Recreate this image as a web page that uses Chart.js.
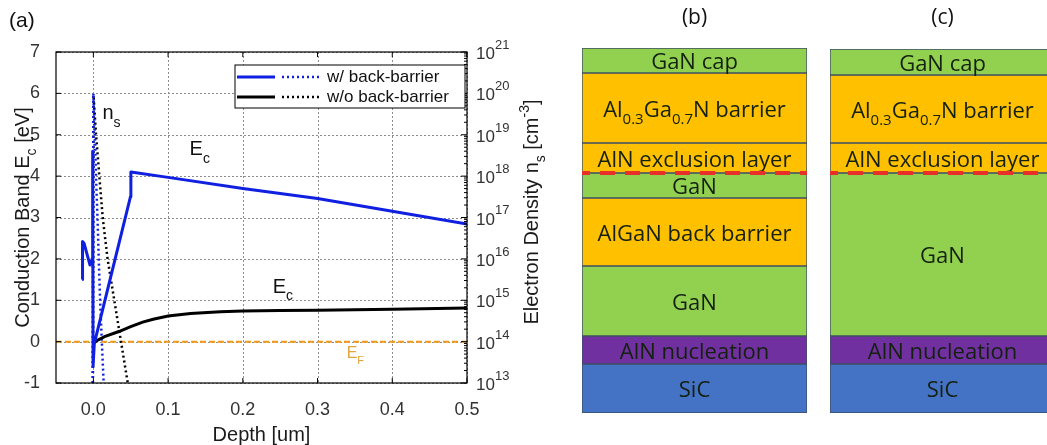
<!DOCTYPE html>
<html>
<head>
<meta charset="utf-8">
<script src="https://cdn.jsdelivr.net/npm/chart.js@4.4.1/dist/chart.umd.min.js"></script>
<style>
  html, body { margin: 0; padding: 0; background: #fff; width: 1047px; height: 445px; overflow: hidden; }
  .panel { position: absolute; top: 0; }
</style>
</head>
<body>
<div class="panel" style="left:0"><canvas id="band" width="560" height="445"></canvas></div>
<div class="panel" style="left:560px"><canvas id="stackB" width="255" height="445"></canvas></div>
<div class="panel" style="left:815px"><canvas id="stackC" width="240" height="445"></canvas></div>
<script>
// ---- data (a): band diagram ----
const xTicks = [0, 0.1, 0.2, 0.3, 0.4, 0.5];
const ecTicks = [-1, 0, 1, 2, 3, 4, 5, 6, 7];
const densityTicks = [1e13, 1e14, 1e15, 1e16, 1e17, 1e18, 1e19, 1e20, 1e21];

// conduction band, with back-barrier
const depthEcBB = [-0.015, -0.0148, -0.0142, -0.0125, -0.0045, -0.0015, -0.0009, -0.0004, 0.0013, 0.0496, 0.0502, 0.1, 0.2, 0.3, 0.4, 0.5];
const ecBB      = [1.5, 1.75, 2.42, 2.38, 1.85, 2.0, 4.6, -0.6, -0.04, 3.5, 4.1, 3.97, 3.70, 3.46, 3.15, 2.84];
// conduction band, without back-barrier
const depthEcNoBB = [0.0, 0.005, 0.015, 0.035, 0.05, 0.066, 0.08, 0.1, 0.13, 0.17, 0.2, 0.25, 0.3, 0.4, 0.5];
const ecNoBB      = [-0.05, 0.03, 0.12, 0.25, 0.36, 0.47, 0.54, 0.62, 0.68, 0.72, 0.74, 0.75, 0.76, 0.78, 0.81];
// electron density, with back-barrier
const depthNsBB = [-0.0008, 0, 0.002, 0.0035, 0.0055, 0.0072, 0.009, 0.0113, 0.0138];
const nsBB      = [1e13, 1e20, 1e19, 1e18, 1e17, 1e16, 1e15, 1e14, 1e13];
// electron density, without back-barrier
const depthNsNoBB = [-0.0006, 0.0002, 0.0036, 0.008, 0.0125, 0.019, 0.028, 0.037, 0.046];
const nsNoBB      = [1e13, 9e19, 1e19, 1e18, 1e17, 1e16, 1e15, 1e14, 1e13];
const fermiLevel = 0;

const legendLabels = ['w/ back-barrier', 'w/o back-barrier'];
const seriesColors = ['#1020e0', '#000000'];

// ---- data (b), (c): layer stacks, top to bottom ----
const layersB = ['GaN cap', 'Al0.3Ga0.7N barrier', 'AlN exclusion layer', 'GaN', 'AlGaN back barrier', 'GaN', 'AlN nucleation', 'SiC'];
const thickB  = [25, 70, 30, 25, 68, 70, 28, 49];
const layersC = ['GaN cap', 'Al0.3Ga0.7N barrier', 'AlN exclusion layer', 'GaN', 'AlN nucleation', 'SiC'];
const thickC  = [26, 68, 30, 163, 28, 49];

const materialColor = { GaN: '#92d050', AlGaN: '#ffc000', AlNnuc: '#7030a0', SiC: '#4472c4' };
function layerColor(name) {
  if (name.startsWith('GaN')) return materialColor.GaN;
  if (name.startsWith('AlN nuc')) return materialColor.AlNnuc;
  if (name.startsWith('SiC')) return materialColor.SiC;
  return materialColor.AlGaN;
}
function layerParts(name) {
  if (name.startsWith('Al0.3')) return [['Al'], ['0.3', 'sub'], ['Ga'], ['0.7', 'sub'], ['N barrier']];
  return [[name]];
}

const SANS = "'Liberation Sans', Arial, sans-serif";
const CAL = "'Open Sans', 'Noto Sans', sans-serif";
Chart.defaults.font.family = SANS;
Chart.defaults.color = '#333';

// text with sub/superscripts; y is the middle of the capitals
function drawRich(ctx, parts, x, y, o) {
  const size = o.size, fam = o.family || SANS;
  const small = Math.round(size * (o.scale || 0.7));
  const fontOf = p => (p[1] ? small : size) + 'px ' + fam;
  let w = 0;
  parts.forEach(p => { ctx.font = fontOf(p); w += ctx.measureText(p[0]).width; });
  let cx = o.align === 'center' ? x - w / 2 : (o.align === 'right' ? x - w : x);
  const base = y + size * 0.36;
  ctx.fillStyle = o.color || '#111';
  ctx.textAlign = 'left';
  ctx.textBaseline = 'alphabetic';
  parts.forEach(p => {
    ctx.font = fontOf(p);
    const dy = p[1] === 'sub' ? size * (o.sub || 0.33) : (p[1] === 'sup' ? -size * (o.sup || 0.45) : 0);
    ctx.fillText(p[0], cx, base + dy);
    cx += ctx.measureText(p[0]).width;
  });
}

function pts(xs, ys) { return xs.map((x, i) => ({ x: x, y: ys[i] })); }

const bandDecor = {
  id: 'bandDecor',
  beforeDatasetsDraw(chart) {
    // dotted grid from the scale ticks
    const ctx = chart.ctx, a = chart.chartArea;
    const sx = chart.scales.x, sy = chart.scales.y;
    ctx.save();
    ctx.strokeStyle = '#8c8c8c';
    ctx.lineWidth = 1;
    ctx.setLineDash([2, 2]);
    ctx.beginPath();
    sx.ticks.forEach(t => {
      const px = Math.round(sx.getPixelForValue(t.value)) + 0.5;
      ctx.moveTo(px, a.top); ctx.lineTo(px, a.bottom);
    });
    sy.ticks.forEach(t => {
      const py = Math.round(sy.getPixelForValue(t.value)) + 0.5;
      ctx.moveTo(a.left, py); ctx.lineTo(a.right, py);
    });
    ctx.stroke();
    ctx.restore();
  },
  afterDatasetsDraw(chart) {
    const ctx = chart.ctx, a = chart.chartArea;
    const sx = chart.scales.x, sy = chart.scales.y, sn = chart.scales.yn;
    ctx.save();
    // frame
    ctx.strokeStyle = '#000';
    ctx.lineWidth = 1.2;
    ctx.setLineDash([]);
    ctx.strokeRect(a.left, a.top, a.right - a.left, a.bottom - a.top);
    // inward tick marks
    ctx.lineWidth = 1;
    ctx.beginPath();
    xTicks.forEach(v => {
      const px = sx.getPixelForValue(v);
      ctx.moveTo(px, a.bottom); ctx.lineTo(px, a.bottom - 5);
      ctx.moveTo(px, a.top); ctx.lineTo(px, a.top + 5);
    });
    ecTicks.forEach(v => {
      const py = sy.getPixelForValue(v);
      ctx.moveTo(a.left, py); ctx.lineTo(a.left + 5, py);
    });
    densityTicks.forEach((v, k) => {
      const py = sn.getPixelForValue(v);
      ctx.moveTo(a.right, py); ctx.lineTo(a.right - 6, py);
      if (k < densityTicks.length - 1) {
        for (let m = 2; m <= 9; m++) {
          const pm = sn.getPixelForValue(v * m);
          ctx.moveTo(a.right, pm); ctx.lineTo(a.right - 3, pm);
        }
      }
    });
    ctx.stroke();

    // annotations
    drawRich(ctx, [['n'], ['s', 'sub']], sx.getPixelForValue(0.0121), sy.getPixelForValue(5.55), { size: 20, color: '#111', sub: 0.38 });
    drawRich(ctx, [['E'], ['c', 'sub']], sx.getPixelForValue(0.1287), sy.getPixelForValue(4.68), { size: 20, color: '#111', sub: 0.38 });
    drawRich(ctx, [['E'], ['c', 'sub']], sx.getPixelForValue(0.240), sy.getPixelForValue(1.355), { size: 20, color: '#111', sub: 0.38 });
    drawRich(ctx, [['E'], ['F', 'sub']], sx.getPixelForValue(0.339), sy.getPixelForValue(-0.26), { size: 16, color: '#e3a33c', sub: 0.38 });

    // legend
    const lx = a.left + 179, ly = a.top + 13, lw = 230, lh = 43;
    ctx.fillStyle = '#fff';
    ctx.fillRect(lx, ly, lw, lh);
    ctx.strokeStyle = '#000';
    ctx.lineWidth = 1;
    ctx.strokeRect(lx, ly, lw, lh);
    legendLabels.forEach((lab, i) => {
      const yy = ly + 12 + i * 20;
      ctx.strokeStyle = seriesColors[i];
      ctx.lineWidth = 3;
      ctx.setLineDash([]);
      ctx.beginPath(); ctx.moveTo(lx + 2, yy); ctx.lineTo(lx + 40, yy); ctx.stroke();
      ctx.lineWidth = 2.5;
      ctx.setLineDash([2, 3]);
      ctx.beginPath(); ctx.moveTo(lx + 47, yy); ctx.lineTo(lx + 84, yy); ctx.stroke();
      ctx.setLineDash([]);
      ctx.fillStyle = '#111';
      ctx.font = '17px ' + SANS;
      ctx.textAlign = 'left';
      ctx.textBaseline = 'middle';
      ctx.fillText(lab, lx + 92, yy);
    });

    // right axis labels 10^n
    densityTicks.forEach(v => {
      const e = Math.round(Math.log10(v));
      drawRich(ctx, [['10'], [String(e), 'sup']], a.right + 9, sn.getPixelForValue(v) + 1, { size: 17, scale: 0.78, sup: 0.6, color: '#333' });
    });

    // axis titles
    ctx.save();
    ctx.translate(22, (a.top + a.bottom) / 2);
    ctx.rotate(-Math.PI / 2);
    drawRich(ctx, [['Conduction Band E'], ['c', 'sub'], [' [eV]']], 0, 0, { size: 20, align: 'center', color: '#1a1a1a' });
    ctx.restore();
    ctx.save();
    ctx.translate(531, 212);
    ctx.rotate(-Math.PI / 2);
    drawRich(ctx, [['Electron Density n'], ['s', 'sub'], [' [cm'], ['-3', 'sup'], [']']], 0, 0, { size: 20, align: 'center', color: '#1a1a1a' });
    ctx.restore();

    // panel label
    ctx.fillStyle = '#111';
    ctx.font = '21px ' + SANS;
    ctx.textAlign = 'left';
    ctx.textBaseline = 'middle';
    ctx.fillText('(a)', 9, 21);
    ctx.restore();
  }
};

new Chart(document.getElementById('band'), {
  type: 'line',
  data: {
    datasets: [
      { label: 'Ec w/ BB', data: pts(depthEcBB, ecBB), yAxisID: 'y', borderColor: seriesColors[0], borderWidth: 3, borderJoinStyle: 'round' },
      { label: 'Ec w/o BB', data: pts(depthEcNoBB, ecNoBB), yAxisID: 'y', borderColor: seriesColors[1], borderWidth: 3 },
      { label: 'ns w/ BB', data: pts(depthNsBB, nsBB), yAxisID: 'yn', borderColor: seriesColors[0], borderWidth: 2.5, borderDash: [2, 3] },
      { label: 'ns w/o BB', data: pts(depthNsNoBB, nsNoBB), yAxisID: 'yn', borderColor: seriesColors[1], borderWidth: 2.5, borderDash: [2, 3] },
      { label: 'EF', data: pts([-0.05, 0.5], [fermiLevel, fermiLevel]), yAxisID: 'y', borderColor: '#f29a18', borderWidth: 2, borderDash: [6, 3] }
    ]
  },
  options: {
    responsive: false,
    animation: false,
    devicePixelRatio: 1,
    layout: { padding: { top: 52, left: 0, right: 0, bottom: 0 } },
    elements: { point: { radius: 0 }, line: { tension: 0 } },
    plugins: { legend: { display: false }, tooltip: { enabled: false } },
    scales: {
      x: {
        type: 'linear', min: -0.05, max: 0.5,
        afterBuildTicks: s => { s.ticks = xTicks.map(v => ({ value: v })); },
        afterFit: s => { s.height = 62; },
        ticks: { callback: v => Number(v).toFixed(1), font: { size: 18 }, color: '#333', padding: 8, maxRotation: 0, autoSkip: false },
        grid: { display: false },
        border: { display: false },
        title: { display: true, text: 'Depth [um]', font: { size: 20, lineHeight: 1 }, color: '#1a1a1a', padding: { top: 0, bottom: 0 } }
      },
      y: {
        position: 'left', min: -1, max: 7,
        afterBuildTicks: s => { s.ticks = ecTicks.map(v => ({ value: v })); },
        afterFit: s => { s.width = 56; },
        ticks: { font: { size: 18 }, color: '#333', padding: 8 },
        grid: { display: false },
        border: { display: false }
      },
      yn: {
        type: 'logarithmic', position: 'right', min: 1e13, max: 1e21,
        afterFit: s => { s.width = 93; },
        ticks: { display: false },
        grid: { display: false },
        border: { display: false }
      }
    }
  },
  plugins: [bandDecor]
});

// ---- (b), (c) layer stacks ----
const layerDecor = {
  id: 'layerDecor',
  afterDatasetsDraw(chart, args, opts) {
    const ctx = chart.ctx, a = chart.chartArea, sy = chart.scales.y;
    ctx.save();
    chart.data.datasets.forEach((ds, i) => {
      const el = chart.getDatasetMeta(i).data[0];
      const yc = (el.y + el.base) / 2 + 1;
      drawRich(ctx, layerParts(ds.label), (a.left + a.right) / 2, yc, { size: 22, family: CAL, scale: 0.68, sub: 0.33, align: 'center', color: '#142010' });
    });
    // 2DEG line below the exclusion layer
    const cum = opts.thick.slice(0, opts.twoDegAfter).reduce((s, v) => s + v, 0);
    const py = sy.getPixelForValue(cum);
    ctx.strokeStyle = '#e8302a';
    ctx.lineWidth = 4;
    ctx.setLineDash([15, 10]);
    ctx.lineDashOffset = 7;
    ctx.beginPath(); ctx.moveTo(a.left, py); ctx.lineTo(a.right, py); ctx.stroke();
    ctx.setLineDash([]);
    ctx.fillStyle = '#111';
    ctx.font = '21px ' + CAL;
    ctx.textAlign = 'center';
    ctx.textBaseline = 'middle';
    ctx.fillText(opts.title, (a.left + a.right) / 2, 18);
    ctx.restore();
  }
};

function makeStack(id, names, thick, pad, title) {
  const total = thick.reduce((s, v) => s + v, 0);
  return new Chart(document.getElementById(id), {
    type: 'bar',
    data: {
      labels: ['stack'],
      datasets: names.map((n, i) => ({
        label: n, data: [thick[i]], backgroundColor: layerColor(n),
        borderColor: '#3d4f66', borderWidth: 1, borderSkipped: false,
        barPercentage: 1, categoryPercentage: 1
      }))
    },
    options: {
      responsive: false,
      animation: false,
      devicePixelRatio: 1,
      layout: { padding: pad },
      plugins: { legend: { display: false }, tooltip: { enabled: false }, layerDecor: { thick: thick, twoDegAfter: 3, title: title } },
      scales: {
        x: { display: false, stacked: true },
        y: { display: false, stacked: true, reverse: true, min: 0, max: total }
      }
    },
    plugins: [layerDecor]
  });
}

makeStack('stackB', layersB, thickB, { left: 22, right: 8, top: 48, bottom: 32 }, '(b)');
makeStack('stackC', layersC, thickC, { left: 15, right: 0, top: 49, bottom: 32 }, '(c)');
</script>
</body>
</html>
